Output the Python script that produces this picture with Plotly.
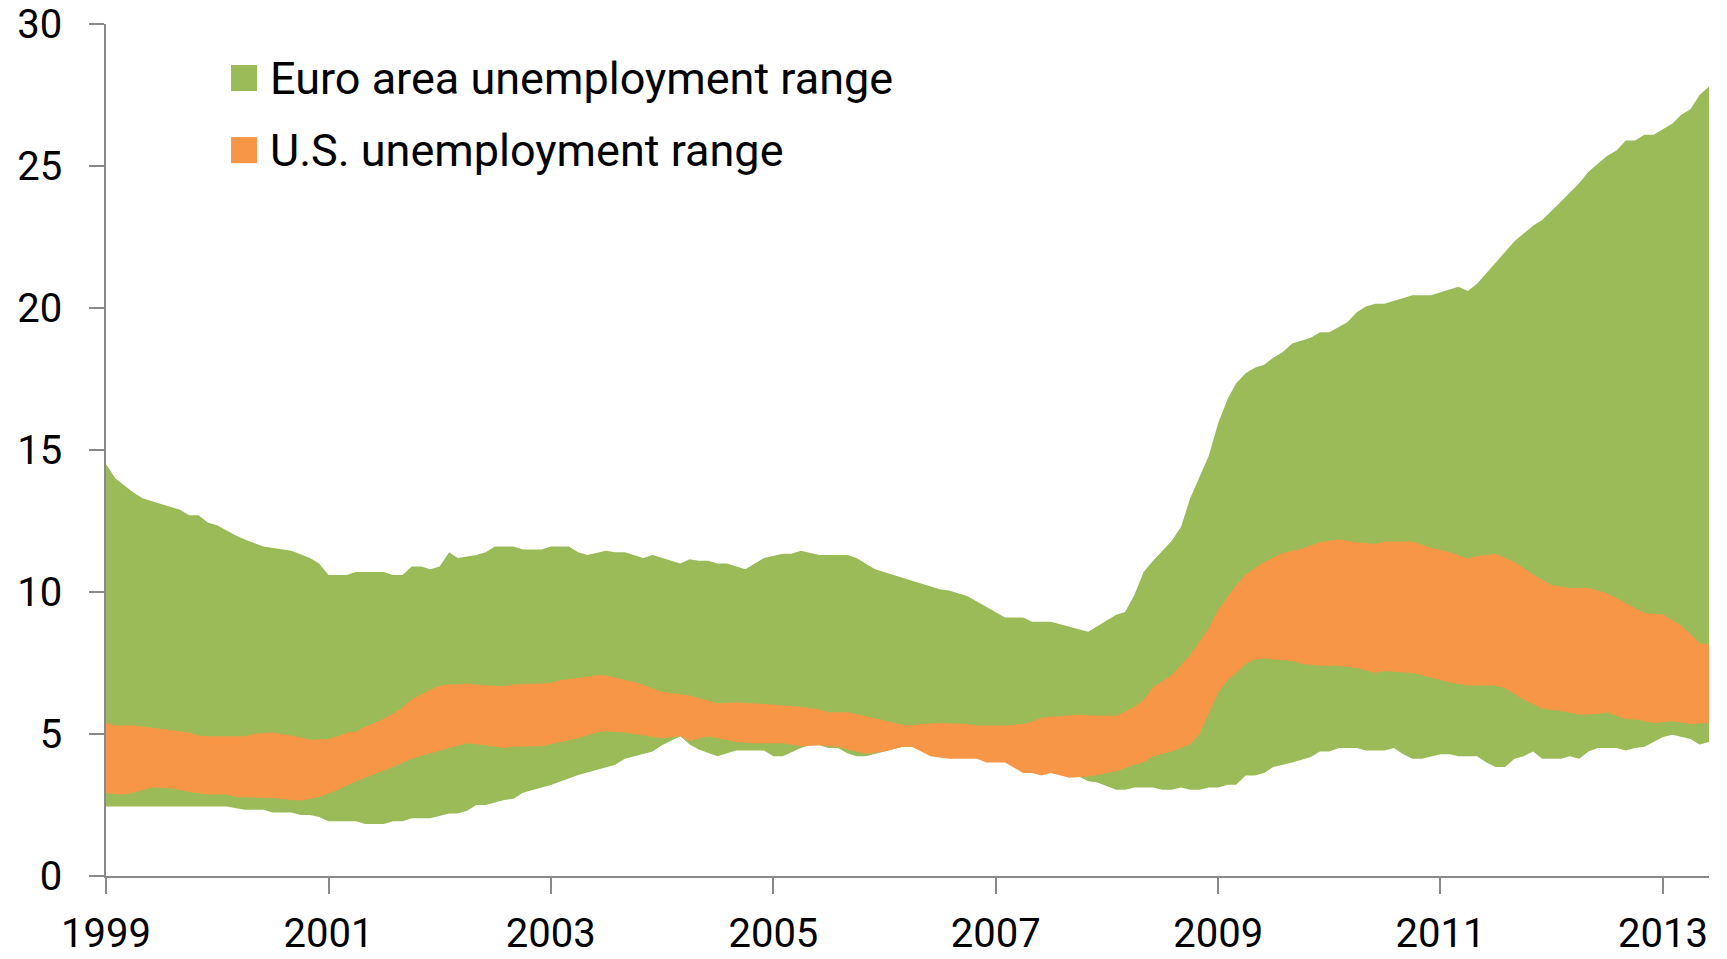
import plotly.graph_objects as go

# ---------------- data ----------------
euro_max_dates = ["1999-01","1999-02","1999-04","1999-05","1999-07","1999-09","1999-10","1999-11","1999-12",
    "2000-01","2000-03","2000-04","2000-06","2000-09","2000-11","2000-12",
    "2001-01","2001-03","2001-04","2001-07","2001-08","2001-09","2001-10","2001-11","2001-12",
    "2002-01","2002-02","2002-03","2002-05","2002-06","2002-07","2002-09","2002-10","2002-12",
    "2003-01","2003-03","2003-04","2003-05","2003-07","2003-08","2003-09","2003-11","2003-12",
    "2004-03","2004-04","2004-05","2004-06","2004-07","2004-08","2004-10","2004-12",
    "2005-02","2005-03","2005-04","2005-06","2005-09","2005-10","2005-12",
    "2006-07","2006-08","2006-10",
    "2007-02","2007-04","2007-05","2007-07","2007-11",
    "2008-02","2008-03","2008-04","2008-05","2008-06","2008-08","2008-09","2008-10","2008-12",
    "2009-01","2009-02","2009-03","2009-04","2009-05","2009-06","2009-07","2009-08","2009-09","2009-11","2009-12",
    "2010-01","2010-03","2010-04","2010-05","2010-06","2010-07","2010-10","2010-12",
    "2011-03","2011-04","2011-05","2011-07","2011-08","2011-09","2011-11","2011-12",
    "2012-02","2012-04","2012-05","2012-07","2012-08","2012-09","2012-10","2012-11","2012-12",
    "2013-02","2013-03","2013-04","2013-05","2013-06"]
euro_max_vals = [14.5,14.0,13.5,13.3,13.1,12.9,12.7,12.7,12.45,
    12.35,12.0,11.85,11.6,11.45,11.2,11.0,
    10.6,10.6,10.7,10.7,10.6,10.6,10.9,10.9,10.8,
    10.9,11.4,11.2,11.3,11.4,11.6,11.6,11.5,11.5,
    11.6,11.6,11.4,11.3,11.45,11.4,11.4,11.2,11.3,
    11.0,11.15,11.1,11.1,11.0,11.0,10.8,11.2,
    11.35,11.35,11.45,11.3,11.3,11.2,10.8,
    10.1,10.05,9.85,
    9.1,9.1,8.95,8.95,8.6,
    9.2,9.3,9.9,10.7,11.1,11.8,12.3,13.3,14.8,
    15.95,16.8,17.35,17.7,17.9,18.0,18.25,18.45,18.75,18.95,19.15,
    19.15,19.5,19.85,20.05,20.15,20.15,20.45,20.45,
    20.75,20.6,20.85,21.6,21.95,22.35,22.9,23.1,
    23.75,24.4,24.8,25.35,25.55,25.9,25.9,26.1,26.1,
    26.5,26.8,27.0,27.5,27.8]

euro_min_dates = ["1999-01","2000-02","2000-04","2000-06","2000-07","2000-09","2000-10","2000-11","2000-12",
    "2001-01","2001-04","2001-05","2001-07","2001-08","2001-09","2001-10","2001-12",
    "2002-02","2002-03","2002-04","2002-05","2002-06","2002-08","2002-09","2002-10",
    "2003-01","2003-04","2003-06","2003-08","2003-09","2003-12",
    "2004-01","2004-02","2004-03","2004-04","2004-05","2004-07","2004-09","2004-12",
    "2005-01","2005-02","2005-03","2005-04","2005-05","2005-06","2005-07","2005-08","2005-09","2005-10","2005-11",
    "2006-01","2006-03","2006-04","2006-05","2006-08","2006-11",
    "2007-02","2007-05","2007-08","2007-10","2007-11","2007-12",
    "2008-02","2008-03","2008-04","2008-06","2008-07","2008-08","2008-09","2008-10","2008-11","2008-12",
    "2009-01","2009-02","2009-03","2009-04","2009-05","2009-06","2009-07","2009-09","2009-11","2009-12",
    "2010-01","2010-02","2010-04","2010-05","2010-07","2010-08","2010-09","2010-10","2010-11",
    "2011-01","2011-02","2011-03","2011-05","2011-06","2011-07","2011-08","2011-09","2011-10","2011-11","2011-12",
    "2012-02","2012-03","2012-04","2012-05","2012-06","2012-08","2012-09","2012-10","2012-11","2012-12",
    "2013-01","2013-02","2013-03","2013-04","2013-05","2013-06"]
euro_min_vals = [2.45,2.45,2.33,2.33,2.24,2.24,2.15,2.15,2.08,
    1.93,1.93,1.83,1.83,1.93,1.93,2.03,2.03,
    2.2,2.2,2.3,2.5,2.5,2.68,2.72,2.93,
    3.2,3.56,3.75,3.92,4.13,4.38,
    4.6,4.76,4.92,4.63,4.45,4.22,4.42,4.42,
    4.22,4.22,4.35,4.51,4.6,4.6,4.51,4.51,4.32,4.22,4.22,
    4.38,4.55,4.55,4.5,4.4,4.35,
    4.2,3.9,3.75,3.5,3.34,3.29,
    3.04,3.04,3.12,3.12,3.04,3.04,3.12,3.04,3.04,3.12,
    3.12,3.21,3.21,3.54,3.54,3.63,3.84,4.0,4.19,4.38,
    4.38,4.51,4.51,4.42,4.42,4.51,4.29,4.13,4.13,
    4.29,4.29,4.22,4.22,4.0,3.84,3.84,4.13,4.22,4.38,4.13,
    4.13,4.22,4.13,4.38,4.51,4.51,4.42,4.51,4.55,4.72,
    4.89,4.97,4.89,4.82,4.63,4.72]

us_max_dates = ["1999-01","1999-02","1999-04","1999-06","1999-08","1999-10","1999-11","1999-12",
    "2000-04","2000-05","2000-07","2000-09","2000-11",
    "2001-01","2001-02","2001-03","2001-04","2001-05","2001-06","2001-08","2001-09","2001-10","2001-12",
    "2002-01","2002-02","2002-03","2002-04","2002-06","2002-08","2002-09","2002-12",
    "2003-01","2003-02","2003-04","2003-06","2003-07","2003-09","2003-10","2003-12",
    "2004-01","2004-04","2004-05","2004-07","2004-09","2004-12",
    "2005-04","2005-06","2005-07","2005-09","2005-10","2005-12",
    "2006-03","2006-04","2006-05","2006-07","2006-10","2006-11",
    "2007-02","2007-04","2007-05","2007-06","2007-08","2007-10","2007-12",
    "2008-02","2008-04","2008-05","2008-06","2008-08","2008-10","2008-12",
    "2009-01","2009-03","2009-04","2009-06","2009-08","2009-10","2009-12",
    "2010-02","2010-04","2010-06","2010-07","2010-10","2010-12",
    "2011-02","2011-04","2011-05","2011-07","2011-09","2011-11",
    "2012-01","2012-03","2012-05","2012-07","2012-09","2012-11",
    "2013-01","2013-03","2013-05","2013-06"]
us_max_vals = [5.4,5.3,5.3,5.23,5.14,5.05,4.95,4.92,
    4.92,5.01,5.05,4.95,4.8,
    4.82,4.92,5.05,5.08,5.26,5.39,5.7,5.93,6.23,6.56,
    6.71,6.74,6.74,6.78,6.71,6.69,6.74,6.78,
    6.8,6.9,6.97,7.07,7.07,6.9,6.84,6.61,
    6.49,6.36,6.27,6.08,6.11,6.06,
    5.96,5.86,5.77,5.77,5.7,5.55,
    5.33,5.3,5.35,5.39,5.35,5.3,
    5.3,5.35,5.43,5.58,5.64,5.68,5.64,
    5.64,5.96,6.21,6.65,7.07,7.78,8.73,
    9.38,10.24,10.62,11.06,11.37,11.52,11.75,
    11.85,11.75,11.69,11.78,11.78,11.56,
    11.4,11.18,11.27,11.35,11.06,10.62,
    10.24,10.14,10.14,9.96,9.61,9.26,
    9.21,8.83,8.2,8.15]

us_min_dates = ["1999-01","1999-03","1999-04","1999-06","1999-08","1999-10","1999-12",
    "2000-02","2000-03","2000-07","2000-09","2000-10","2000-11","2000-12",
    "2001-02","2001-04","2001-06","2001-08","2001-10","2001-12",
    "2002-02","2002-04","2002-06","2002-08","2002-09","2002-12",
    "2003-02","2003-04","2003-06","2003-07","2003-09","2003-11",
    "2004-01","2004-03","2004-04","2004-06","2004-07","2004-09","2004-11",
    "2005-02","2005-04","2005-06","2005-08","2005-09","2005-10","2005-11",
    "2006-01","2006-03","2006-04","2006-06","2006-08","2006-11","2006-12",
    "2007-02","2007-04","2007-05","2007-06","2007-07","2007-09","2007-11","2007-12",
    "2008-02","2008-04","2008-05","2008-06","2008-08","2008-10","2008-11","2008-12",
    "2009-01","2009-02","2009-03","2009-04","2009-05","2009-06","2009-09","2009-10","2009-12",
    "2010-02","2010-04","2010-06","2010-07","2010-10","2010-12",
    "2011-02","2011-04","2011-07","2011-08","2011-10","2011-12",
    "2012-02","2012-04","2012-06","2012-07","2012-09","2012-10","2012-12",
    "2013-02","2013-04","2013-06"]
us_min_vals = [2.91,2.87,2.93,3.12,3.09,2.96,2.87,
    2.87,2.78,2.75,2.68,2.66,2.71,2.78,
    3.04,3.34,3.59,3.84,4.13,4.32,
    4.51,4.67,4.6,4.51,4.55,4.57,
    4.72,4.85,5.05,5.1,5.05,4.95,
    4.85,4.92,4.75,4.92,4.85,4.72,4.67,
    4.67,4.57,4.6,4.55,4.45,4.38,4.3,
    4.38,4.55,4.55,4.22,4.13,4.13,4.0,
    4.0,3.63,3.63,3.54,3.63,3.46,3.5,3.56,
    3.69,3.92,4.0,4.22,4.38,4.63,5.01,5.7,
    6.46,6.9,7.15,7.47,7.62,7.66,7.57,7.47,7.4,
    7.4,7.32,7.15,7.22,7.15,6.99,
    6.81,6.71,6.71,6.61,6.21,5.89,
    5.81,5.68,5.7,5.77,5.52,5.52,5.39,
    5.45,5.35,5.39]

series_names = ["Euro area unemployment range", "U.S. unemployment range"]
series_colors = ["#9BBB59", "#F79646"]
x_range = ["1999-01-01", "2013-06-01"]
y_ticks = [0, 5, 10, 15, 20, 25, 30]

# ---------------- figure ----------------
fig = go.Figure()

def band(max_d, max_v, min_d, min_v, name, color):
    return go.Scatter(
        x=list(max_d) + list(min_d)[::-1],
        y=list(max_v) + list(min_v)[::-1],
        fill="toself", fillcolor=color, mode="lines",
        line=dict(width=0, color=color), name=name,
        hoverinfo="skip", showlegend=False)

fig.add_trace(band(euro_max_dates, euro_max_vals, euro_min_dates, euro_min_vals,
                   series_names[0], series_colors[0]))
fig.add_trace(band(us_max_dates, us_max_vals, us_min_dates, us_min_vals,
                   series_names[1], series_colors[1]))

axis_gray = "#898989"
tick_font = dict(family="Roboto", size=40, color="black")
fig.update_xaxes(type="date", range=x_range, tick0="1999-01-01", dtick="M24",
                 tickformat="%Y", showgrid=False, zeroline=False, automargin=False,
                 showline=True, linecolor=axis_gray, linewidth=1.5,
                 ticks="outside", ticklen=16, tickwidth=1.5, tickcolor=axis_gray,
                 tickfont=tick_font, ticklabelstandoff=5, ticklabeloverflow="allow")
fig.update_yaxes(range=[0, 30], tickvals=y_ticks, showgrid=False, zeroline=False,
                 automargin=False,
                 showline=True, linecolor=axis_gray, linewidth=1.5,
                 ticks="outside", ticklen=15, tickwidth=1.5, tickcolor=axis_gray,
                 tickfont=tick_font, ticklabelstandoff=19, ticklabeloverflow="allow")

# legend drawn as squares + text
legend_y = [0.9366, 0.852]
for name, color, yc in zip(series_names, series_colors, legend_y):
    fig.add_shape(type="rect", xref="paper", yref="paper",
                  x0=0.078, x1=0.0942, y0=yc - 0.0153, y1=yc + 0.0153,
                  fillcolor=color, line=dict(width=0))
    fig.add_annotation(text=name, xref="paper", yref="paper", x=0.1009, y=yc,
                       xanchor="left", yanchor="middle", showarrow=False,
                       font=dict(family="Roboto", size=45, color="black"))

fig.update_layout(width=1727, height=959,
                  margin=dict(l=106, r=18, t=24, b=83),
                  plot_bgcolor="white", paper_bgcolor="white",
                  font=dict(family="Roboto", size=40, color="black"),
                  showlegend=False)

fig.write_html("out.html", config={"displayModeBar": False},
               post_script="document.body.style.margin='0';")
